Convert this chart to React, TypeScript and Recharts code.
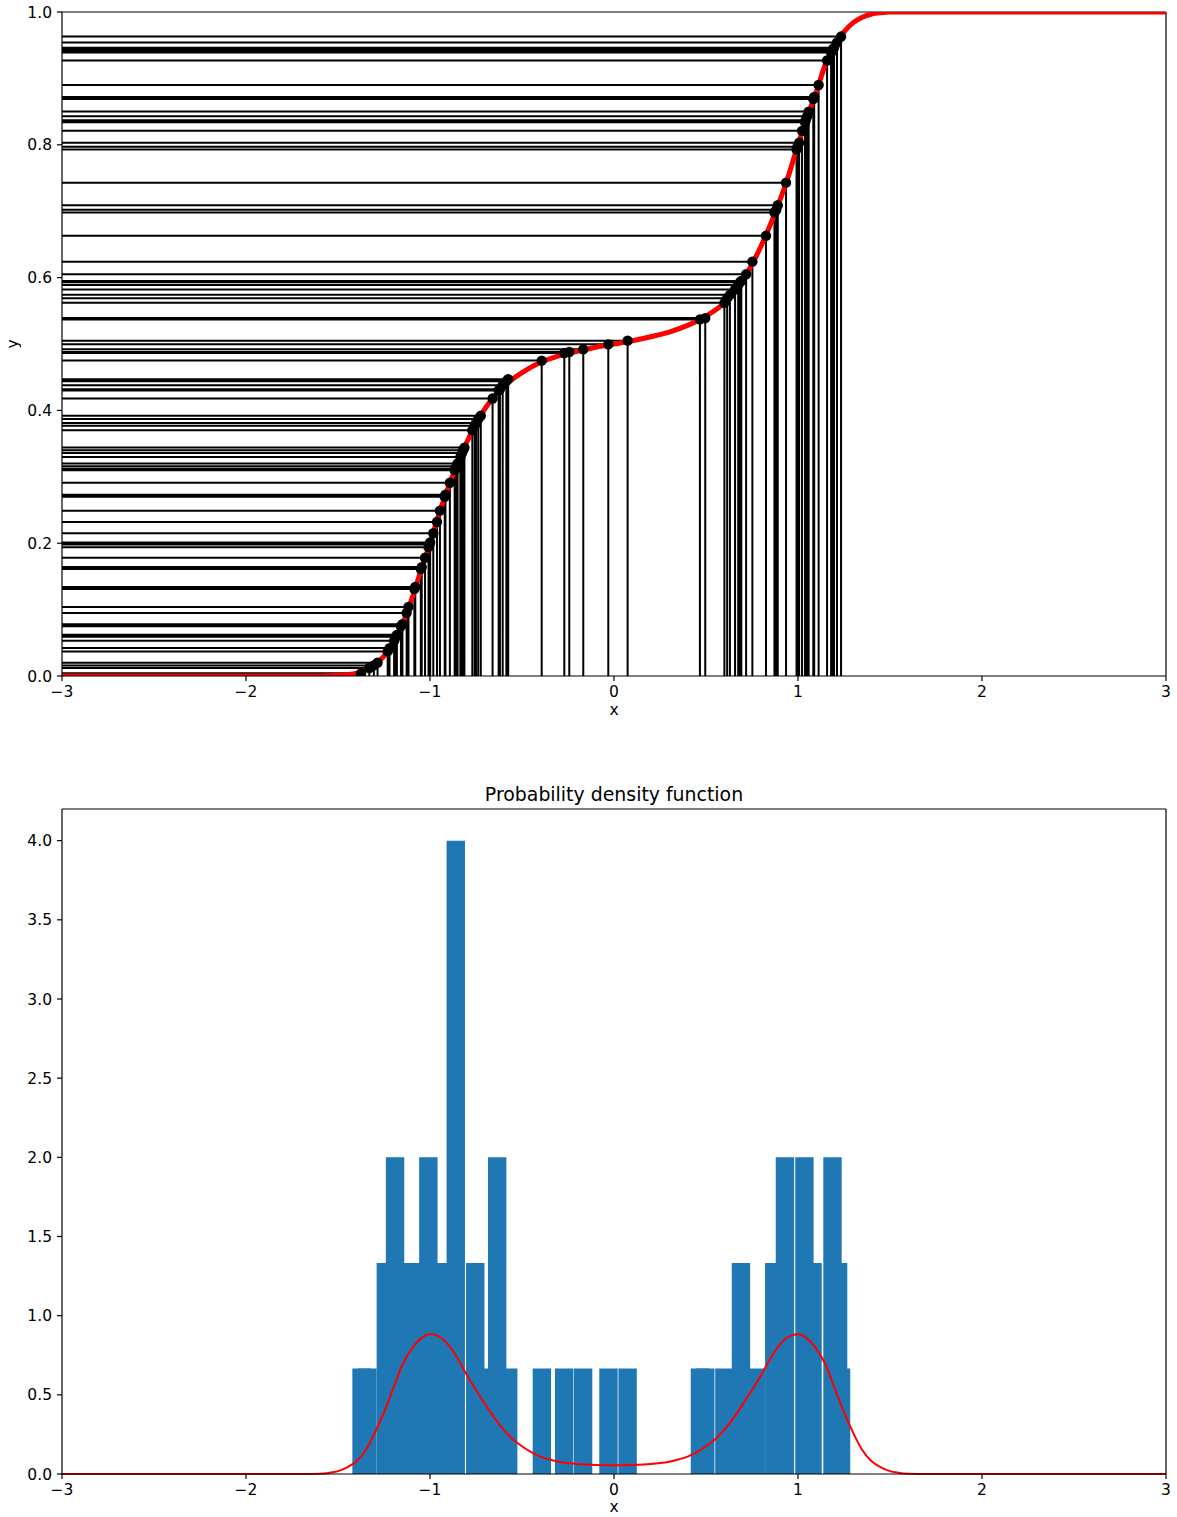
import React from 'react';
import {
  ComposedChart,
  Line,
  Scatter,
  XAxis,
  YAxis,
  ZAxis,
  ReferenceLine,
  ReferenceArea,
  Label,
} from 'recharts';

const FONT = 'DejaVu Sans, Verdana, sans-serif';

// ---------- axis ticks ----------
const X_TICKS = [-3, -2, -1, 0, 1, 2, 3];
const CDF_Y_TICKS = [0, 0.2, 0.4, 0.6, 0.8, 1.0];
const PDF_Y_TICKS = [0, 0.5, 1, 1.5, 2, 2.5, 3, 3.5, 4];
const X_DOMAIN: [number, number] = [-3, 3];
const CDF_Y_DOMAIN: [number, number] = [0, 1];
const PDF_Y_DOMAIN: [number, number] = [0, 4.2];

// ---------- samples (top chart) ----------
const sampleX = [
  -1.375, -1.33, -1.305, -1.285, -1.23, -1.22, -1.195, -1.185, -1.18, -1.158,
  -1.15, -1.127, -1.117, -1.085, -1.08, -1.05, -1.045, -1.027, -1.008, -1.003,
  -0.999, -0.982, -0.962, -0.946, -0.92, -0.916, -0.892, -0.866, -0.862, -0.856,
  -0.85, -0.835, -0.826, -0.82, -0.813, -0.77, -0.757, -0.75, -0.738, -0.724,
  -0.66, -0.627, -0.62, -0.605, -0.585, -0.575,
  -0.393, -0.27, -0.243, -0.167, -0.031, 0.074,
  0.467, 0.496, 0.6, 0.615, 0.63, 0.658, 0.675, 0.685, 0.692, 0.718,
  0.752, 0.826, 0.872, 0.882, 0.89, 0.935, 0.992, 0.997, 1.006, 1.022,
  1.038, 1.042, 1.05, 1.058, 1.083, 1.088, 1.112, 1.158, 1.18, 1.184,
  1.19, 1.196, 1.212, 1.234,
];
const sampleY = [
  0.004, 0.012, 0.016, 0.02, 0.037, 0.042, 0.053, 0.059, 0.062, 0.075,
  0.078, 0.095, 0.104, 0.131, 0.134, 0.161, 0.164, 0.178, 0.194, 0.198,
  0.201, 0.215, 0.232, 0.249, 0.27, 0.273, 0.291, 0.31, 0.312, 0.316,
  0.32, 0.33, 0.336, 0.34, 0.344, 0.37, 0.377, 0.381, 0.387, 0.392,
  0.418, 0.43, 0.432, 0.438, 0.444, 0.447,
  0.475, 0.4865, 0.488, 0.492, 0.4995, 0.505,
  0.537, 0.539, 0.562, 0.569, 0.574, 0.582, 0.589, 0.593, 0.595, 0.605,
  0.624, 0.663, 0.698, 0.702, 0.709, 0.743, 0.793, 0.797, 0.803, 0.821,
  0.834, 0.837, 0.843, 0.85, 0.869, 0.872, 0.89, 0.927, 0.939, 0.941,
  0.944, 0.946, 0.954, 0.963,
];

// ---------- CDF curve (top chart) ----------
const cdfX = [
  -3, -1.6, -1.5, -1.45, -1.4, -1.35, -1.3, -1.25, -1.2, -1.15, -1.1, -1.05,
  -1.0, -0.95, -0.9, -0.85, -0.8, -0.75, -0.7, -0.65, -0.6, -0.5, -0.4, -0.3,
  -0.2, -0.1, 0, 0.1, 0.2, 0.3, 0.4, 0.5, 0.6, 0.65, 0.7, 0.75, 0.8, 0.85,
  0.9, 0.95, 1.0, 1.05, 1.1, 1.15, 1.2, 1.25, 1.3, 1.35, 1.4, 1.45, 1.5, 1.6, 3,
];
const cdfY = [
  0, 0, 0.001, 0.002, 0.004, 0.009, 0.017, 0.03, 0.05, 0.078, 0.115, 0.158,
  0.2, 0.245, 0.285, 0.32, 0.352, 0.38, 0.403, 0.421, 0.436, 0.457, 0.472, 0.482,
  0.489, 0.495, 0.5, 0.505, 0.511, 0.518, 0.528, 0.542, 0.562, 0.578, 0.597, 0.62, 0.648, 0.68,
  0.715, 0.755, 0.8, 0.842, 0.88, 0.922, 0.95, 0.97, 0.984, 0.992, 0.997, 0.999, 1.0, 1.0, 1.0,
];

// ---------- PDF curve (bottom chart) ----------
const pdfX = [
  -3, -1.7, -1.6, -1.55, -1.5, -1.45, -1.4, -1.35, -1.3, -1.25, -1.2, -1.15, -1.1,
  -1.05, -1.0, -0.95, -0.9, -0.85, -0.8, -0.75, -0.7, -0.65, -0.6, -0.55, -0.5,
  -0.45, -0.4, -0.35, -0.3, -0.25, -0.2, -0.1, 0, 0.1, 0.2, 0.25, 0.3, 0.35, 0.4,
  0.45, 0.5, 0.55, 0.6, 0.65, 0.7, 0.75, 0.8, 0.85, 0.9, 0.95, 1.0, 1.05, 1.1,
  1.15, 1.2, 1.25, 1.3, 1.35, 1.4, 1.45, 1.5, 1.55, 1.6, 1.7, 3,
];
const pdfY = [
  0, 0, 0.002, 0.007, 0.018, 0.042, 0.08, 0.15, 0.26, 0.39, 0.54, 0.69, 0.79,
  0.855, 0.882, 0.868, 0.815, 0.73, 0.625, 0.53, 0.44, 0.355, 0.28, 0.22, 0.175,
  0.138, 0.11, 0.092, 0.078, 0.069, 0.063, 0.057, 0.055, 0.057, 0.063, 0.069, 0.078, 0.092, 0.11,
  0.138, 0.175, 0.22, 0.28, 0.355, 0.44, 0.53, 0.625, 0.73, 0.815, 0.868, 0.882, 0.855, 0.79,
  0.69, 0.54, 0.39, 0.26, 0.15, 0.08, 0.042, 0.018, 0.007, 0.002, 0, 0,
];

// ---------- histogram (bottom chart) ----------
const histCenters = [
  -1.372, -1.34, -1.24, -1.19, -1.14, -1.0625, -1.009, -0.95, -0.86, -0.754,
  -0.678, -0.635, -0.575,
  -0.392, -0.271, -0.168, -0.03, 0.074,
  0.467, 0.496, 0.6, 0.69, 0.771, 0.871, 0.929, 1.035, 1.079, 1.1875, 1.218, 1.234,
];
const histHeights = [
  0.667, 0.667, 1.333, 2.0, 1.333, 1.333, 2.0, 1.333, 4.0, 1.333,
  0.667, 2.0, 0.667,
  0.667, 0.667, 0.667, 0.667, 0.667,
  0.667, 0.667, 0.667, 1.333, 0.667, 1.333, 2.0, 2.0, 1.333, 2.0, 1.333, 0.667,
];
const HIST_BAR_WIDTH = 0.1;

// ---------- derived tables ----------
const samplePoints = sampleX.map((x, i) => ({ x, y: sampleY[i] }));
const sampleGuides = sampleX.flatMap((x, i) => [
  { x: X_DOMAIN[0], y: sampleY[i] },
  { x, y: sampleY[i] },
  { x, y: 0 },
  { x, y: null as number | null },
]);
const cdfCurve = cdfX.map((x, i) => ({ x, y: cdfY[i] }));
const pdfCurve = pdfX.map((x, i) => ({ x, y: pdfY[i] }));

const fmtX = (v: number) => (v < 0 ? '\u2212' + Math.abs(v) : String(v));
const fmtY = (v: number) => v.toFixed(1);

const TICK_FS = 15.5;
const tickStyle = { fill: '#000', fontSize: TICK_FS, fontFamily: FONT };
const lineStyle = { stroke: '#000', strokeWidth: 1.2 };
const labelStyle = { fill: '#000', fontSize: TICK_FS, fontFamily: FONT };

export default function App() {
  return (
    <div style={{ position: 'absolute', left: 0, top: 0, width: 1177, height: 1517, background: '#fff', fontFamily: FONT }}>
      <div style={{ position: 'absolute', left: 0, top: 0 }}>
        <ComposedChart width={1177} height={730} margin={{ top: 12, right: 11, bottom: 0, left: 0 }}>
          <XAxis
            dataKey="x"
            type="number"
            domain={X_DOMAIN}
            ticks={X_TICKS}
            tickFormatter={fmtX}
            tick={tickStyle}
            tickLine={lineStyle}
            axisLine={lineStyle}
            tickSize={5}
            tickMargin={5}
            height={54}
            allowDataOverflow
            interval={0}
          >
            <Label value="x" position="insideBottom" offset={15} style={labelStyle} />
          </XAxis>
          <YAxis
            dataKey="y"
            type="number"
            domain={CDF_Y_DOMAIN}
            ticks={CDF_Y_TICKS}
            tickFormatter={fmtY}
            tick={tickStyle}
            tickLine={lineStyle}
            axisLine={lineStyle}
            tickSize={5}
            tickMargin={5}
            width={62}
            allowDataOverflow
            interval={0}
          >
            <Label value="y" angle={-90} position="insideLeft" offset={12} style={{ ...labelStyle, textAnchor: 'middle' }} />
          </YAxis>
          <ZAxis range={[85, 85]} />
          <ReferenceLine y={1} stroke="#000" strokeWidth={1.2} />
          <ReferenceLine x={3} stroke="#000" strokeWidth={1.2} />
          <Line
            data={sampleGuides}
            dataKey="y"
            type="linear"
            stroke="#000"
            strokeWidth={2}
            dot={false}
            activeDot={false}
            connectNulls={false}
            isAnimationActive={false}
          />
          <Line
            data={cdfCurve}
            dataKey="y"
            type="monotone"
            stroke="#ff0000"
            strokeWidth={5}
            dot={false}
            activeDot={false}
            isAnimationActive={false}
          />
          <Scatter data={samplePoints} dataKey="y" fill="#000" isAnimationActive={false} />
        </ComposedChart>
      </div>

      <div style={{ position: 'absolute', left: 0, top: 760 }}>
        <ComposedChart width={1177} height={757} margin={{ top: 49, right: 11, bottom: 0, left: 0 }}>
          <XAxis
            dataKey="x"
            type="number"
            domain={X_DOMAIN}
            ticks={X_TICKS}
            tickFormatter={fmtX}
            tick={tickStyle}
            tickLine={lineStyle}
            axisLine={lineStyle}
            tickSize={5}
            tickMargin={5}
            height={43}
            interval={0}
          >
            <Label value="x" position="insideBottom" offset={5} style={labelStyle} />
          </XAxis>
          <YAxis
            dataKey="y"
            type="number"
            domain={PDF_Y_DOMAIN}
            ticks={PDF_Y_TICKS}
            tickFormatter={fmtY}
            tick={tickStyle}
            tickLine={lineStyle}
            axisLine={lineStyle}
            tickSize={5}
            tickMargin={5}
            width={62}
            interval={0}
          />
          {histCenters.map((c, i) => (
            <ReferenceArea
              key={'h' + i}
              x1={c - HIST_BAR_WIDTH / 2}
              x2={c + HIST_BAR_WIDTH / 2}
              y1={0}
              y2={histHeights[i]}
              fill="#1f77b4"
              fillOpacity={1}
              stroke="none"
              ifOverflow="visible"
            />
          ))}
          <ReferenceLine y={PDF_Y_DOMAIN[1]} stroke="#000" strokeWidth={1.2}>
            <Label value="Probability density function" position="top" offset={8} style={{ fill: '#000', fontSize: 18.9, fontFamily: FONT }} />
          </ReferenceLine>
          <ReferenceLine x={3} stroke="#000" strokeWidth={1.2} />
          <Line
            data={pdfCurve}
            dataKey="y"
            type="monotone"
            stroke="#ff0000"
            strokeWidth={2}
            dot={false}
            activeDot={false}
            isAnimationActive={false}
          />
        </ComposedChart>
      </div>
    </div>
  );
}
